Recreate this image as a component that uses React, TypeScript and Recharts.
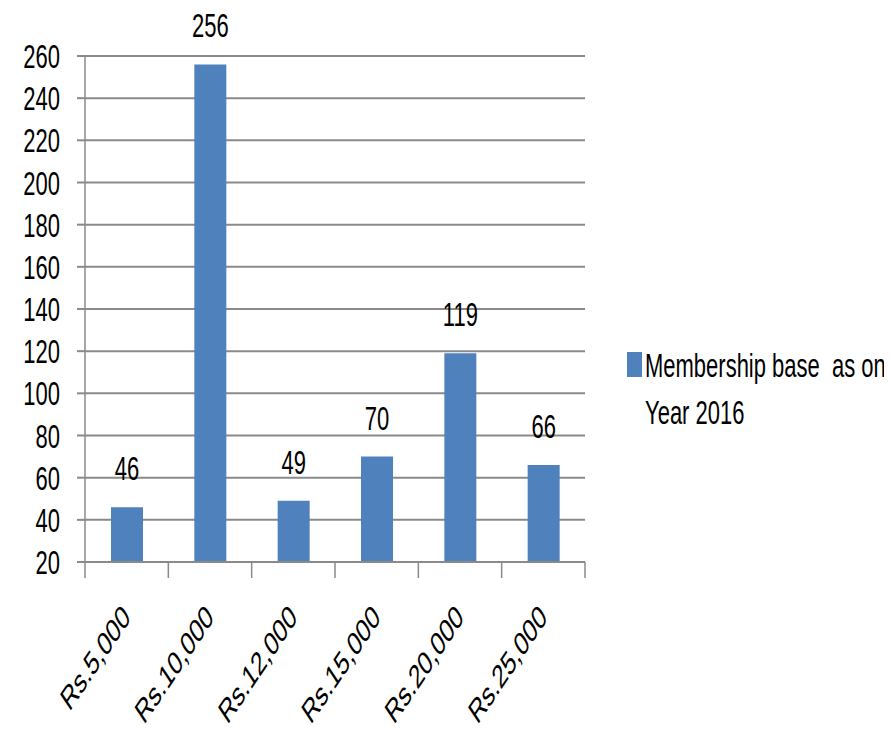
import * as React from "react";
import { BarChart, Bar, XAxis, YAxis, CartesianGrid, Legend, LabelList } from "recharts";

const CATEGORIES = ["Rs.5,000", "Rs.10,000", "Rs.12,000", "Rs.15,000", "Rs.20,000", "Rs.25,000"];
const MEMBERS = [46, 256, 49, 70, 119, 66];
const Y_TICKS = [20, 40, 60, 80, 100, 120, 140, 160, 180, 200, 220, 240, 260];
const SERIES_NAME = "Membership base  as on Year 2016";
const LEGEND_LINES = ["Membership base  as on", "Year 2016"];

const FONT = "'Liberation Sans', Arial, sans-serif";
const FS = 22;
const STRETCH = 1.5; // the source text is tall and narrow
const BLUE = "#4f81bd";
const GRID = "#8a8a8a";

const data = CATEGORIES.map((name, i) => ({ name, value: MEMBERS[i] }));

const Tall = ({ x, y, anchor, rotate, children }: any) => (
  <text
    transform={`translate(${x}, ${y}) scale(1, ${STRETCH})${rotate ? ` rotate(${rotate})` : ""}`}
    textAnchor={anchor}
    fontFamily={FONT}
    fontSize={FS}
    fill="#000"
    style={{ whiteSpace: "pre" }}
  >
    {children}
  </text>
);

const XTick = (props: any) => {
  const { x, y, payload, index } = props;
  const half = payload && payload.offset ? payload.offset : 41.7;
  const last = index === CATEGORIES.length - 1;
  return (
    <g>
      <line x1={x - half} y1={y} x2={x - half} y2={y + 16} stroke={GRID} strokeWidth={1.5} />
      {last ? <line x1={x + half} y1={y} x2={x + half} y2={y + 16} stroke={GRID} strokeWidth={1.5} /> : null}
      <Tall x={x + 5} y={y + 57} anchor="end" rotate={-45}>
        {payload.value}
      </Tall>
    </g>
  );
};

const YTick = (props: any) => {
  const { x, y, payload } = props;
  return (
    <Tall x={x} y={y + 12} anchor="end">
      {payload.value}
    </Tall>
  );
};

const BarValue = (props: any) => {
  const { x, y, width, value } = props;
  return (
    <Tall x={x + width / 2} y={y - 27} anchor="middle">
      {value}
    </Tall>
  );
};

const LegendBox = () => (
  <svg width={300} height={110} style={{ display: "block", overflow: "visible" }}>
    <rect x={42} y={12} width={15} height={25} fill={BLUE} />
    <Tall x={60} y={37} anchor="start">
      {LEGEND_LINES[0]}
    </Tall>
    <Tall x={60} y={84} anchor="start">
      {LEGEND_LINES[1]}
    </Tall>
  </svg>
);

export default function App() {
  return (
    <div style={{ position: "relative", margin: -8, width: 892, height: 732, background: "#fff", overflow: "hidden" }}>
      <div style={{ position: "absolute", left: 5, top: 0, width: 2, height: 732, background: "#a6a6a6" }} />
      <BarChart width={892} height={732} data={data} margin={{ top: 56, right: 7, bottom: 0, left: 0 }}>
        <CartesianGrid vertical={false} stroke={GRID} strokeWidth={2} />
        <XAxis
          dataKey="name"
          height={170}
          axisLine={{ stroke: GRID, strokeWidth: 2 }}
          tickLine={false}
          tickSize={0}
          tickMargin={0}
          interval={0}
          tick={<XTick />}
        />
        <YAxis
          width={85}
          domain={[20, 260]}
          ticks={Y_TICKS}
          interval={0}
          axisLine={{ stroke: GRID, strokeWidth: 1.5 }}
          tickLine={{ stroke: GRID, strokeWidth: 2 }}
          tickSize={8}
          tickMargin={17}
          tick={<YTick />}
        />
        <Legend
          layout="vertical"
          align="right"
          verticalAlign="top"
          wrapperStyle={{ top: 340, left: 585, width: 300 }}
          content={<LegendBox />}
        />
        <Bar dataKey="value" name={SERIES_NAME} fill={BLUE} barSize={32} isAnimationActive={false}>
          <LabelList dataKey="value" content={<BarValue />} />
        </Bar>
      </BarChart>
    </div>
  );
}
